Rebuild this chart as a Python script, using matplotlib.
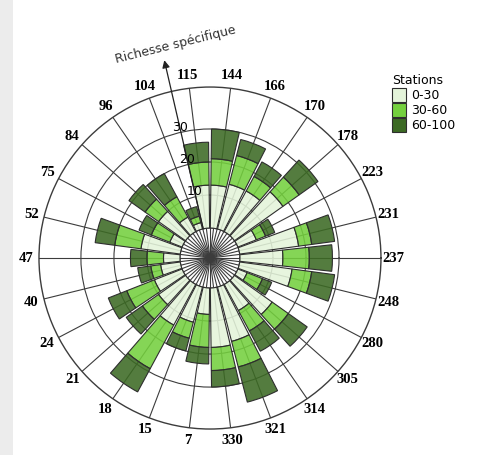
import numpy as np
import matplotlib
matplotlib.use("Agg")
import matplotlib.pyplot as plt
from matplotlib.colors import to_rgba
from matplotlib.patches import Patch, Rectangle

# species richness per station, stacked by depth class (m)
stations = ['7', '15', '18', '21', '24', '40', '47', '52', '75', '84', '96', '104', '115',
            '144', '166', '170', '178', '223', '231', '237', '248', '280', '305', '314', '321', '330']
rich_0_30 = [8, 11, 14, 10, 9, 6, 5, 12, 4, 10, 5, 2, 13,
             13, 14, 14, 18, 6, 18, 13, 16, 3, 14, 9, 17, 18]
rich_30_60 = [10, 5, 15, 6, 9, 3, 5, 8, 6, 5, 7, 2, 7,
              8, 9, 5, 6, 3, 4, 8, 6, 5, 6, 7, 8, 7]
rich_60_100 = [5, 4, 8, 6, 6, 4, 5, 6, 4, 6, 8, 3, 6,
               9, 5, 5, 7, 3, 7, 7, 7, 3, 7, 7, 11, 5]
classes = ['0-30', '30-60', '60-100']
colors = ['#e4f4da', '#74d03e', '#3c6a24']

rmin, rmax = -9.08, 42.7
n = len(stations)
slot = 2 * np.pi / n
theta = (np.arange(n) - 19) * slot   # station 237 points east

fig = plt.figure(figsize=(4.91, 4.55), dpi=100)
fig.patch.set_facecolor('#ececec')
fig.add_artist(Rectangle((13 / 491, 0), 1, 1, transform=fig.transFigure,
                         facecolor='white', edgecolor='none', zorder=0))

ax = fig.add_axes([0.0794, 0.0571, 0.6965, 0.7516], projection='polar')
ax.set_theta_direction(-1)
ax.set_theta_offset(0)
ax.set_ylim(rmin, rmax)

bottom = np.zeros(n)
for vals, col in zip([rich_0_30, rich_30_60, rich_60_100], colors):
    vals = np.array(vals, dtype=float)
    ax.bar(theta, vals, width=slot * 0.9, bottom=bottom, align='center',
           facecolor=to_rgba(col, 0.88), edgecolor='#2e2e2e', linewidth=0.8, zorder=3)
    bottom += vals

ax.set_thetagrids(np.degrees(theta) % 360, labels=[])
ax.set_rgrids([0, 10, 20, 30], labels=[])
ax.grid(True, color='#3c3c3c', linewidth=0.8)
ax.spines['polar'].set_color('#3c3c3c')
ax.spines['polar'].set_linewidth(1.0)

# spokes inside the hub along the bar edges
for th in theta + slot / 2:
    ax.plot([th, th], [rmin, 0], color='#3c3c3c', linewidth=0.8, zorder=2)

for th, s in zip(theta, stations):
    ax.text(th, 46.6, s, ha='center', va='center', fontsize=10.5,
            fontfamily='Liberation Serif', fontweight='bold')

# radial axis with arrow
ang = np.deg2rad(257)
ax.annotate('', xy=(ang, 52.4), xytext=(ang, 0), annotation_clip=False,
            arrowprops=dict(arrowstyle='-|>', color='#222222', lw=0.9,
                            mutation_scale=11, shrinkA=0, shrinkB=0), zorder=6)
for r in [10, 20, 30]:
    ax.text(ang, r + 1.6, str(r), ha='center', va='center', fontsize=9, zorder=7)
ax.text(np.deg2rad(260.9), 56.2, 'Richesse spécifique', rotation=14,
        ha='center', va='center', rotation_mode='anchor', fontsize=9, color='#333333')

handles = [Patch(facecolor=c, edgecolor='#2e2e2e', linewidth=0.8) for c in colors]
fig.legend(handles, classes, title='Stations', loc='upper left',
           bbox_to_anchor=(386 / 491, 1 - 68 / 455), frameon=False, fontsize=9,
           title_fontsize=9, handlelength=1.1, handleheight=1.4, handletextpad=0.4,
           labelspacing=0.05, borderpad=0, alignment='left')

fig.savefig('out.png', dpi=100, facecolor=fig.get_facecolor())
